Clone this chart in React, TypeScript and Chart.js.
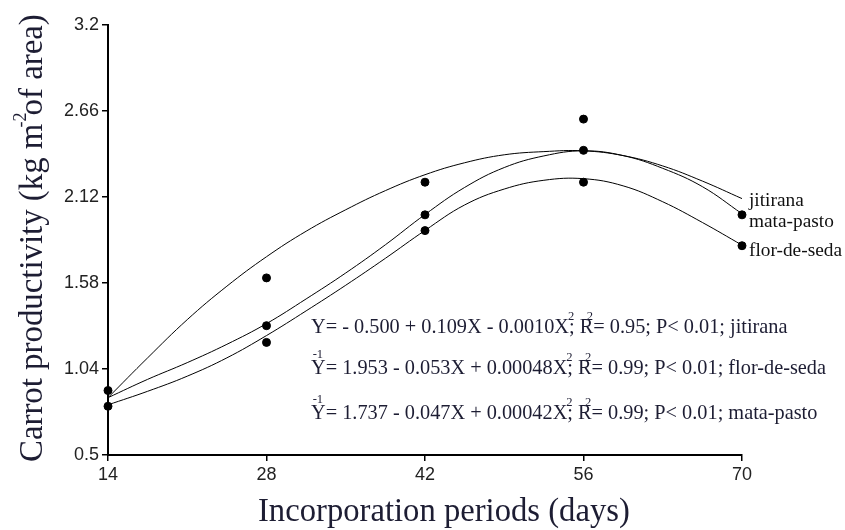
import { useEffect, useRef } from "react";
import { Chart, registerables } from "chart.js";

Chart.register(...registerables);

// Fitted curves
const curveX = [14, 17.5, 21, 24.5, 28, 31.5, 35, 38.5, 42, 45.5, 49, 52.5, 56, 59.5, 63, 66.5, 70];
const jitiranaCurve = [0.86, 1.11, 1.35, 1.56, 1.745, 1.905, 2.04, 2.16, 2.26, 2.335, 2.385, 2.405, 2.41, 2.38, 2.315, 2.22, 2.11];
const mataPastoCurve = [0.86, 0.975, 1.08, 1.195, 1.325, 1.48, 1.643, 1.82, 2.01, 2.18, 2.305, 2.378, 2.41, 2.38, 2.3, 2.185, 2.015];
const florDeSedaCurve = [0.815, 0.9, 0.995, 1.11, 1.25, 1.405, 1.566, 1.735, 1.91, 2.07, 2.17, 2.225, 2.235, 2.19, 2.09, 1.96, 1.818];

// Observed means
const obsX = [14, 14, 28, 28, 28, 42, 42, 42, 56, 56, 56, 70, 70];
const obsY = [0.905, 0.806, 1.612, 1.312, 1.207, 2.213, 2.008, 1.909, 2.609, 2.413, 2.213, 2.008, 1.814];

// Axes
const xTicks = [14, 28, 42, 56, 70];
const yTicks = [0.5, 1.04, 1.58, 2.12, 2.66, 3.2];
const yTickLabels = ["0.5", "1.04", "1.58", "2.12", "2.66", "3.2"];

const yTitleA = "Carrot productivity (kg m";
const yTitleSup = "-2";
const yTitleB = " of area)";
const xTitle = "Incorporation periods (days)";

const seriesNames = ["jitirana", "mata-pasto", "flor-de-seda"];
const eqLines = [
  { pre: "", parts: ["Y= - 0.500 + 0.109X - 0.0010X", "; R", "= 0.95; P< 0.01; jitirana"] },
  { pre: "-1", parts: ["Y= 1.953 - 0.053X + 0.00048X", "; R", "= 0.99; P< 0.01; flor-de-seda"] },
  { pre: "-1", parts: ["Y= 1.737 - 0.047X + 0.00042X", "; R", "= 0.99; P< 0.01; mata-pasto"] },
];

const SERIF = "'Liberation Serif', 'DejaVu Serif', serif";

function fit(ctx: CanvasRenderingContext2D, text: string, family: string, target: number) {
  ctx.font = `100px ${family}`;
  const w = ctx.measureText(text).width;
  return (100 * target) / w;
}

const textPlugin = {
  id: "texts",
  afterDraw(chart: any) {
    const ctx: CanvasRenderingContext2D = chart.ctx;
    const xs = chart.scales.x;
    ctx.save();
    ctx.textAlign = "left";
    ctx.textBaseline = "alphabetic";

    // Y title
    const ySize = fit(ctx, yTitleA + yTitleB, SERIF, 448);
    ctx.save();
    ctx.translate(42, 462);
    ctx.rotate(-Math.PI / 2);
    ctx.fillStyle = "#1d1d33";
    ctx.font = `${ySize}px ${SERIF}`;
    ctx.fillText(yTitleA, 0, 0);
    const wA = ctx.measureText(yTitleA).width;
    ctx.fillText(yTitleB, wA, 0);
    ctx.font = `${ySize * 0.55}px ${SERIF}`;
    ctx.fillText(yTitleSup, wA - ySize * 0.12, -ySize * 0.5);
    ctx.restore();

    // X title
    const xSize = fit(ctx, xTitle, SERIF, 372);
    ctx.fillStyle = "#1d1d33";
    ctx.font = `${xSize}px ${SERIF}`;
    ctx.fillText(xTitle, 258, 521);

    // Series labels at right end
    const lblSize = fit(ctx, seriesNames[2], SERIF, 93);
    ctx.fillStyle = "#111";
    ctx.font = `${lblSize}px ${SERIF}`;
    const xr = xs.getPixelForValue(70) + 7;
    ctx.fillText(seriesNames[0], xr, 206);
    ctx.fillText(seriesNames[1], xr, 227);
    ctx.fillText(seriesNames[2], xr, 256);

    // Equations
    const eqSize = fit(ctx, eqLines[0].parts.join(""), SERIF, 477);
    const baselines = [333, 374, 419];
    eqLines.forEach((ln, i) => {
      const x0 = 311;
      const yb = baselines[i];
      ctx.fillStyle = "#1d1d33";
      ctx.font = `${eqSize}px ${SERIF}`;
      let x = x0;
      const p0 = ln.parts[0];
      ctx.fillText(p0, x, yb);
      x += ctx.measureText(p0).width;
      const sup1 = x;
      ctx.fillText(ln.parts[1], x, yb);
      x += ctx.measureText(ln.parts[1]).width;
      const sup2 = x;
      ctx.fillText(ln.parts[2], x, yb);
      ctx.font = `${eqSize * 0.62}px ${SERIF}`;
      ctx.fillText("2", sup1 - eqSize * 0.05, yb - eqSize * 0.62);
      ctx.fillText("2", sup2 - eqSize * 0.32, yb - eqSize * 0.62);
      if (ln.pre) {
        ctx.fillText(ln.pre, x0 + eqSize * 0.08, yb - eqSize * 0.78);
      }
    });
    ctx.restore();
  },
};

export default function App() {
  const ref = useRef<HTMLCanvasElement>(null);
  useEffect(() => {
    if (!ref.current) return;
    const curveStyle = {
      type: "line" as const,
      showLine: true,
      borderColor: "#000",
      borderWidth: 1,
      pointRadius: 0,
      fill: false,
      tension: 0.4,
      clip: false,
    };
    const chart = new Chart(ref.current, {
      type: "scatter",
      data: {
        datasets: [
          { ...curveStyle, label: seriesNames[0], data: curveX.map((x, i) => ({ x, y: jitiranaCurve[i] })) },
          { ...curveStyle, label: seriesNames[1], data: curveX.map((x, i) => ({ x, y: mataPastoCurve[i] })) },
          { ...curveStyle, label: seriesNames[2], data: curveX.map((x, i) => ({ x, y: florDeSedaCurve[i] })) },
          {
            type: "scatter",
            label: "observed",
            data: obsX.map((x, i) => ({ x, y: obsY[i] })),
            backgroundColor: "#000",
            borderColor: "#000",
            pointRadius: 4,
            pointHoverRadius: 4,
            clip: false,
          },
        ],
      } as any,
      options: {
        animation: false,
        responsive: false,
        maintainAspectRatio: false,
        layout: { padding: { left: 0, right: 103, top: 25, bottom: 0 } },
        plugins: { legend: { display: false }, tooltip: { enabled: false } },
        scales: {
          x: {
            type: "linear",
            min: 14,
            max: 70,
            afterBuildTicks: (s: any) => {
              s.ticks = xTicks.map((v) => ({ value: v }));
            },
            afterFit: (s: any) => {
              s.height = 75;
            },
            ticks: {
              color: "#222",
              padding: 3,
              maxRotation: 0,
              font: { family: "'Liberation Sans', Arial, sans-serif", size: 18 },
              callback: (v: any) => String(v),
            },
            grid: { drawOnChartArea: false, drawTicks: true, tickLength: 6, color: "#000", lineWidth: 1.5 },
            border: { display: true, color: "#000", width: 2 },
          },
          y: {
            type: "linear",
            min: 0.5,
            max: 3.2,
            afterBuildTicks: (s: any) => {
              s.ticks = yTicks.map((v) => ({ value: v }));
            },
            afterFit: (s: any) => {
              s.width = 108;
            },
            ticks: {
              color: "#222",
              padding: 3,
              font: { family: "'Liberation Sans', Arial, sans-serif", size: 18 },
              callback: (v: any) => {
                const i = yTicks.findIndex((t) => Math.abs(t - Number(v)) < 1e-6);
                return i >= 0 ? yTickLabels[i] : "";
              },
            },
            grid: { drawOnChartArea: false, drawTicks: true, tickLength: 6, color: "#000", lineWidth: 1.5 },
            border: { display: true, color: "#000", width: 2 },
          },
        },
      },
      plugins: [textPlugin],
    });
    return () => chart.destroy();
  }, []);
  return (
    <div style={{ position: "fixed", left: 0, top: 0, width: 845, height: 530, background: "#fff" }}>
      <canvas ref={ref} width={845} height={530} />
    </div>
  );
}
